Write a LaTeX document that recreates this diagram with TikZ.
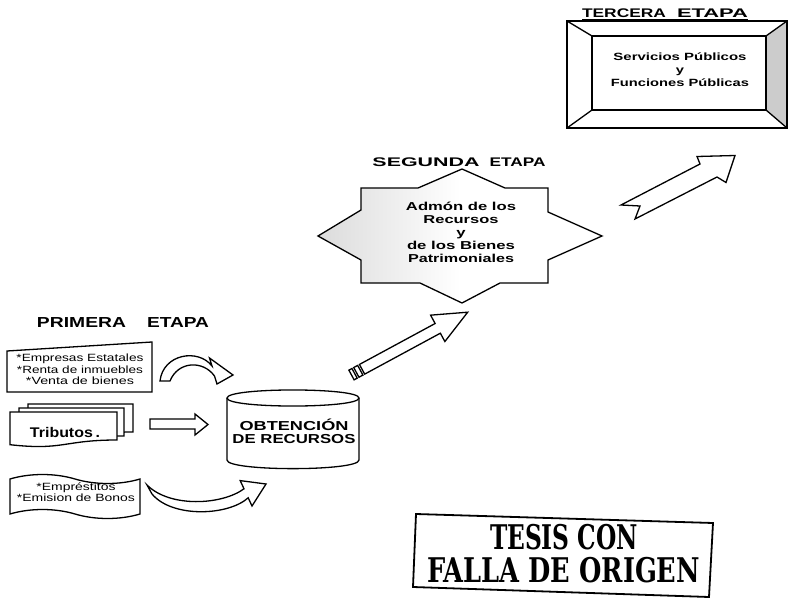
\documentclass[tikz,border=0pt]{standalone}
\usepackage{fontspec}
\setmainfont{Liberation Sans}
\newfontfamily\stampfont{DejaVu Serif}
\newcommand\fw[2]{\resizebox{#1pt}{\height}{#2}}
\begin{document}
\begin{tikzpicture}[x=1pt,y=-1pt,
  outl/.style={draw=black, line width=1.3pt, fill=white, line join=miter},
  txt/.style={inner sep=0pt, align=center, text=black},
  head/.style={txt, font=\bfseries\fontsize{12.5}{14}\selectfont},
  small/.style={txt, font=\fontsize{10.5}{11.5}\selectfont},
]
\fill[white] (0,0) rectangle (788,605);
\useasboundingbox (0,0) rectangle (788,605);

% ---------------- PRIMERA ETAPA ----------------
\node[txt, font=\bfseries\fontsize{14.5}{17}\selectfont] (prim) at (123,323)
  {\fw{89}{PRIMERA}\hspace{21pt}\fw{62}{ETAPA}};

% box 1
\draw[outl] (7,351) -- (152,342) -- (152,392) -- (7,392) -- cycle;
\node[small] (empresas) at (80,369.5)
  {\fw{127}{*Empresas Estatales}\\\fw{126}{*Renta de inmuebles}\\\fw{108}{*Venta de bienes}};

% curved arrow 1
\draw[outl] (160,381) .. controls (163,354) and (198,348) .. (212,366)
  -- (209.5,358) -- (233,375) -- (217,384) -- (214.5,376)
  .. controls (203,360) and (178,361) .. (170,381) -- cycle;

% Tributos stack
\draw[outl] (28,404) -- (133,404) -- (133,432) .. controls (80.5,432) and (80.5,442.7) .. (28,436.7) -- cycle;
\draw[outl] (19,408) -- (124,408) -- (124,436) .. controls (71.5,436) and (71.5,446.7) .. (19,440.7) -- cycle;
\draw[outl] (10,412) -- (117,412) -- (117,440) .. controls (63.5,440) and (63.5,450.7) .. (10,444.7) -- cycle;
\node[txt, font=\bfseries\fontsize{14}{16}\selectfont] (trib) at (65,432) {\fw{70}{Tributos\,.}};

% straight arrow
\draw[outl] (150,419) -- (195,419) -- (195,414) -- (208,424.5) -- (195,435) -- (195,429) -- (150,429) -- cycle;

% Emprestitos punched tape
\draw[outl] (10,479) .. controls (30,473) and (55,473) .. (75,479)
  .. controls (95,485) and (120,485) .. (140,479) -- (140,514)
  .. controls (120,520) and (95,520) .. (75,514)
  .. controls (55,508) and (30,508) .. (10,514) -- cycle;
\node[txt, font=\fontsize{10.5}{11}\selectfont] (empr) at (76,492.5)
  {\fw{79}{*Empréstitos}\\\fw{118}{*Emision de Bonos}};

% curved arrow 2
\draw[outl] (147,485) -- (152,494) .. controls (172,518) and (228,516) .. (248.2,497.8)
  -- (252,506) -- (266,484) -- (240.2,480.6) -- (244,488.8)
  .. controls (222,505) and (170,508) .. (147,485) -- cycle;

% cylinder
\draw[outl] (227,398) -- (227,460) .. controls (227,471.5) and (359,471.5) .. (359,460) -- (359,398);
\draw[outl] (227,398) .. controls (227,387.3) and (359,387.3) .. (359,398)
  .. controls (359,408.7) and (227,408.7) .. (227,398) -- cycle;
\node[txt, font=\bfseries\fontsize{13}{13}\selectfont] (obt) at (294,431)
  {\fw{109}{OBTENCIÓN}\\\fw{123}{DE RECURSOS}};

% striped diagonal arrow
\draw[outl] (348.88,370.16) -- (351.96,368.49) -- (357.2,378.17) -- (354.12,379.84) -- cycle;
\draw[outl] (353.72,367.54) -- (357.68,365.4) -- (362.92,375.08) -- (358.96,377.22) -- cycle;
\draw[outl] (359.44,364.45) -- (435.12,323.51) -- (430.6,315.15) -- (467.7,312.2)
  -- (444.88,341.55) -- (440.36,333.19) -- (364.68,374.13) -- cycle;

% ---------------- SEGUNDA ETAPA ----------------
\node[head] (seg) at (459,162) {\fw{107}{SEGUNDA}\hspace{10pt}\fw{56}{ETAPA}};
\shade[left color=gray!28, right color=white, middle color=white]
  (361,188) -- (418,188) -- (462,169) -- (505,188) -- (548,188) -- (548,212)
  -- (602,236) -- (548,260) -- (548,283) -- (500,283) -- (462,303) -- (420,283)
  -- (361,283) -- (361,260) -- (318,236) -- (361,210) -- cycle;
\draw[line width=1.3pt, line join=miter]
  (361,188) -- (418,188) -- (462,169) -- (505,188) -- (548,188) -- (548,212)
  -- (602,236) -- (548,260) -- (548,283) -- (500,283) -- (462,303) -- (420,283)
  -- (361,283) -- (361,260) -- (318,236) -- (361,210) -- cycle;
\node[txt, font=\bfseries\fontsize{11.5}{13}\selectfont] (admon) at (461,232)
  {\fw{110}{Admón de los}\\\fw{75}{Recursos}\\\scalebox{1.45}[1]{y}\\\fw{108}{de los Bienes}\\\fw{106}{Patrimoniales}};

% big notched arrow
\draw[outl] (621,205) -- (700,164) -- (697,156.5) -- (735,155.5) -- (726,182.5)
  -- (717,177) -- (635,219) -- (640,206) -- cycle;

% ---------------- TERCERA ETAPA ----------------
\node[head] (ter) at (665,13.5) {\fw{84}{TERCERA}\hspace{11pt}\fw{71}{ETAPA}};
\draw[line width=1.5pt] (582,20) -- (748,20);
\draw[outl] (567,21) rectangle (787,128);
\fill[gray!40] (766,36) -- (787,21) -- (787,128) -- (766,110) -- cycle;
\draw[line width=1.3pt] (592,36) rectangle (766,110);
\draw[line width=1.3pt] (567,21) -- (592,36) (787,21) -- (766,36)
  (567,128) -- (592,110) (787,128) -- (766,110);
\draw[line width=1.3pt] (567,21) rectangle (787,128);
\node[txt, font=\bfseries\fontsize{10.5}{13}\selectfont] (serv) at (680,70)
  {\fw{133}{Servicios Públicos}\\\scalebox{1.4}[1]{y}\\\fw{138}{Funciones Públicas}};

% ---------------- stamp ----------------
\draw[line width=1.8pt, line join=miter] (416,514) -- (713,523) -- (709,597) -- (413,587) -- cycle;
\node[txt, font=\stampfont\bfseries\fontsize{34}{34}\selectfont] (tesis) at (564,537.5) {\fw{148}{TESIS CON}};
\node[txt, font=\stampfont\bfseries\fontsize{34}{34}\selectfont] (falla) at (563.5,570.5) {\fw{273}{FALLA DE ORIGEN}};
\end{tikzpicture}
\end{document}
